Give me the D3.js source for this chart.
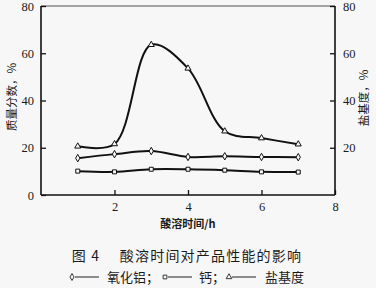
<!DOCTYPE html>
<html>
<head>
<meta charset="utf-8">
<script src="https://cdn.jsdelivr.net/npm/d3@7"></script>
<style>
  body { margin: 0; background: #f7f7f7; }
  text { fill: #1a1a1a; }
  .cjk { font-family: "Noto Sans CJK SC", sans-serif; }
</style>
</head>
<body>
<script>
// acid dissolving time, h
var hours = [1, 2, 3, 4, 5, 6, 7];
// mass fraction, % (left axis)
var alumina = [15.6, 17.3, 18.6, 16.1, 16.4, 16.1, 16.0];
var calcium = [10.1, 9.8, 10.9, 10.9, 10.5, 9.8, 9.7];
// basicity, % (right axis)
var basicity = [20.6, 21.6, 63.6, 53.6, 27.0, 24.1, 21.5];

var xTicks = [2, 4, 6, 8];
var yTicks = [0, 20, 40, 60, 80];

var margin = {top: 6, right: 41, bottom: 93, left: 41},
    width = 376 - margin.left - margin.right,
    height = 288 - margin.top - margin.bottom;

var x = d3.scaleLinear().domain([0, 8]).range([0, width]);
var y = d3.scaleLinear().domain([0, 80]).range([height, 0]);
var y2 = d3.scaleLinear().domain([0, 80]).range([height, 0]);

var svg = d3.select("body").append("svg")
    .attr("width", 376)
    .attr("height", 288);

var g = svg.append("g")
    .attr("transform", "translate(" + margin.left + "," + margin.top + ")");

// frame top
g.append("line")
    .attr("x1", 0).attr("x2", width)
    .attr("y1", 0).attr("y2", 0)
    .attr("stroke", "#888").attr("stroke-width", 1.5);

// axes
var xAxis = g.append("g")
    .attr("transform", "translate(0," + height + ")")
    .call(d3.axisBottom(x).tickValues(xTicks).tickSize(-5).tickPadding(7));
var yAxis = g.append("g")
    .call(d3.axisLeft(y).tickValues(yTicks).tickSize(-5).tickPadding(7));
var yAxis2 = g.append("g")
    .attr("transform", "translate(" + width + ",0)")
    .call(d3.axisRight(y2).tickValues(yTicks.slice(1)).tickSize(-5).tickPadding(8));

[xAxis, yAxis, yAxis2].forEach(function(a) {
  a.attr("font-family", "'Liberation Serif', 'DejaVu Serif', serif").attr("font-size", 12);
  a.select(".domain").attr("stroke", "#111").attr("stroke-width", 1.6);
  a.selectAll(".tick line").attr("stroke", "#111").attr("stroke-width", 1.3);
  a.selectAll("text")
      .style("font-family", "'Liberation Serif', 'DejaVu Serif', serif")
      .style("font-size", "12.5px")
      .style("fill", "#1a1a1a");
});
xAxis.select(".domain").attr("d", "M0,0H" + width);
yAxis.select(".domain").attr("d", "M0," + height + "V0");
yAxis2.select(".domain").attr("d", "M0," + height + "V0");

// lines
function lineFor(scale) {
  return d3.line()
      .x(function(d) { return x(d.h); })
      .y(function(d) { return scale(d.v); })
      .curve(d3.curveCatmullRom.alpha(0.5));
}
function pairs(vals) {
  return hours.map(function(h, i) { return {h: h, v: vals[i]}; });
}

var series = [
  {vals: alumina, scale: y, shape: d3.symbolDiamond},
  {vals: calcium, scale: y, shape: d3.symbolSquare},
  {vals: basicity, scale: y2, shape: d3.symbolTriangle}
];

series.forEach(function(s) {
  var data = pairs(s.vals);
  g.append("path")
      .datum(data)
      .attr("fill", "none")
      .attr("stroke", "#111")
      .attr("stroke-width", 2)
      .attr("d", lineFor(s.scale));
  g.selectAll(null)
      .data(data)
    .enter().append("path")
      .attr("transform", function(d) { return "translate(" + x(d.h) + "," + s.scale(d.v) + ")"; })
      .attr("d", d3.symbol().type(s.shape).size(16))
      .attr("fill", "#f7f7f7")
      .attr("stroke", "#111")
      .attr("stroke-width", 1);
});

// axis titles
svg.append("text")
    .attr("class", "cjk")
    .attr("transform", "translate(16,97) rotate(-90)")
    .attr("text-anchor", "middle")
    .style("font-size", "11.5px")
    .text("质量分数，%");

svg.append("text")
    .attr("class", "cjk")
    .attr("transform", "translate(368,98) rotate(-90)")
    .attr("text-anchor", "middle")
    .style("font-size", "11.5px")
    .text("盐基度，%");

svg.append("text")
    .attr("class", "cjk")
    .attr("x", 188).attr("y", 228)
    .attr("text-anchor", "middle")
    .style("font-size", "11px")
    .style("font-weight", "bold")
    .text("酸溶时间/h");

// caption
svg.append("text")
    .attr("class", "cjk")
    .attr("x", 187).attr("y", 261)
    .attr("text-anchor", "middle")
    .style("font-size", "14px")
    .style("letter-spacing", "1.2px")
    .text("图 4　 酸溶时间对产品性能的影响");

// legend
var legendY = 277;
var legend = [
  {shape: d3.symbolDiamond, x: 72, label: "氧化铝；", lx: 107},
  {shape: d3.symbolSquare, x: 165, label: "钙；", lx: 199},
  {shape: d3.symbolTriangle, x: 229, label: "盐基度", lx: 265}
];
legend.forEach(function(l) {
  svg.append("path")
      .attr("transform", "translate(" + l.x + "," + legendY + ")")
      .attr("d", d3.symbol().type(l.shape).size(14))
      .attr("fill", "#f7f7f7")
      .attr("stroke", "#222")
      .attr("stroke-width", 0.9);
  svg.append("line")
      .attr("x1", l.x + 3).attr("x2", l.x + 27)
      .attr("y1", legendY).attr("y2", legendY)
      .attr("stroke", "#222").attr("stroke-width", 1);
  svg.append("text")
      .attr("class", "cjk")
      .attr("x", l.lx).attr("y", legendY + 5)
      .style("font-size", "13px")
      .text(l.label);
});
</script>
</body>
</html>
